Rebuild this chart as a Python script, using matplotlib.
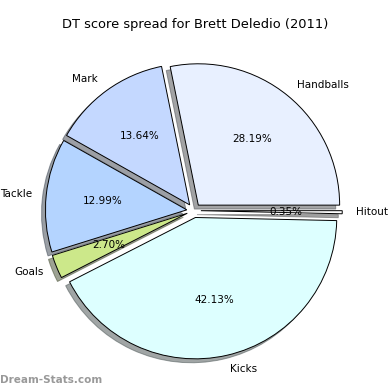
import matplotlib
matplotlib.use("Agg")
import matplotlib.pyplot as plt

# DT score share per stat
labels = ["Handballs", "Mark", "Tackle", "Goals", "Kicks", "Hitout"]
shares = [28.19, 13.64, 12.99, 2.70, 42.13, 0.35]
colours = ["#E8F0FF", "#C4D8FF", "#B4D4FF", "#CCE88A", "#DDFFFF", "#FFFFFF"]

fig = plt.figure(figsize=(3.9, 3.9), dpi=100)
ax = fig.add_axes([0.044, 0.007, 0.906, 0.906])

wedges, texts, autotexts = ax.pie(shares, labels=labels, colors=colours,
                                  explode=[0.05] * len(shares), shadow=True,
                                  autopct="%.2f%%", startangle=0,
                                  wedgeprops={"edgecolor": "black", "linewidth": 0.7},
                                  textprops={"fontsize": 7.5})
ax.set_aspect("equal")

fig.text(0.5, 0.936, "DT score spread for Brett Deledio (2011)",
         ha="center", va="center", fontsize=9.4)
fig.text(0.0, 0.025, "Dream-Stats.com", ha="left", va="center",
         fontsize=7.5, color="#999999", fontweight="bold")

fig.savefig("out.png", dpi=100)
